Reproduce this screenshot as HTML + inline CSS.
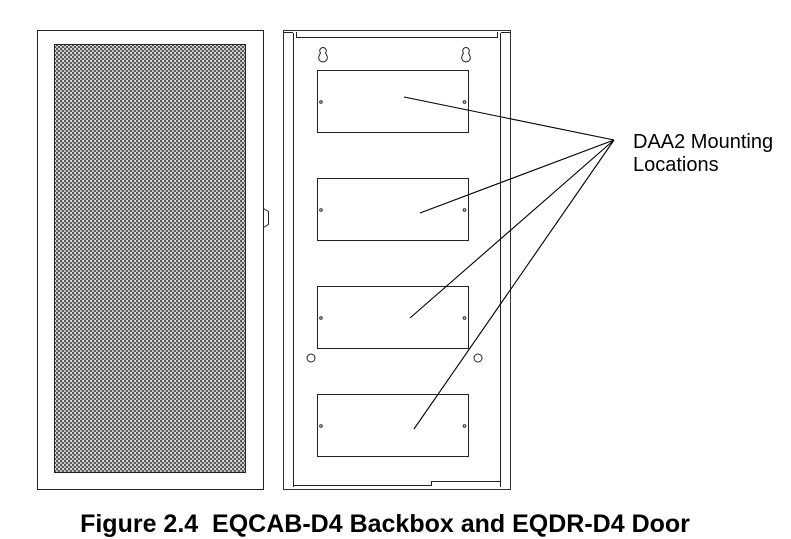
<!DOCTYPE html>
<html><head><style>
html,body{margin:0;padding:0;background:#fff;width:791px;height:539px;overflow:hidden}
</style></head><body>
<svg width="791" height="539" viewBox="0 0 791 539" xmlns="http://www.w3.org/2000/svg">
<defs>
<pattern id="p" x="55" y="45" width="4" height="4" patternUnits="userSpaceOnUse">
<circle cx="2" cy="2" r="1.4" fill="none" stroke="#222" stroke-width="0.9"/>
</pattern>
</defs>
<g fill="none" stroke="#222" stroke-width="1">
<!-- door -->
<rect x="37.5" y="30.5" width="226" height="459" stroke="#222"/>
<rect x="54.5" y="44.5" width="191" height="428" fill="url(#p)" stroke="#222"/>
<path d="M263.5 208.5 L268.5 211.5 L268.5 224.5 L263.5 227.5"/>
<!-- backbox -->
<rect x="283.5" y="30.5" width="227" height="459" stroke="#333"/>
<line x1="293.5" y1="33" x2="293.5" y2="487"/>
<line x1="500.5" y1="33" x2="500.5" y2="487"/>
<path d="M284 32.5 H293 M296.5 32 V37.5 H497.5 V32 M501 32.5 H510"/>
<path d="M294 485.5 H431.5 V481.5 H500"/>
<!-- keyholes -->
<path d="M320.5 53 A3.3 3.3 0 1 1 325.5 53 L327 56 A4.3 4.3 0 1 1 319 56 Z"/>
<path d="M463.5 53 A3.3 3.3 0 1 1 468.5 53 L470 56 A4.3 4.3 0 1 1 462 56 Z"/>
<rect x="317.5" y="70.5" width="151" height="62"/>
<rect x="317.5" y="178.5" width="151" height="62"/>
<rect x="317.5" y="286.5" width="151" height="62"/>
<rect x="317.5" y="394.5" width="151" height="62"/>
<circle cx="321" cy="102" r="1.3"/><circle cx="464.5" cy="102" r="1.3"/>
<circle cx="321" cy="210" r="1.3"/><circle cx="464.5" cy="210" r="1.3"/>
<circle cx="321" cy="318" r="1.3"/><circle cx="464.5" cy="318" r="1.3"/>
<circle cx="321" cy="426" r="1.3"/><circle cx="464.5" cy="426" r="1.3"/>
<circle cx="311" cy="358" r="4"/><circle cx="478" cy="358" r="4"/>
<g stroke="#000" stroke-width="1.1">
<line x1="614" y1="140" x2="404" y2="97"/>
<line x1="614" y1="140" x2="420" y2="213"/>
<line x1="614" y1="140" x2="410" y2="318"/>
<line x1="614" y1="140" x2="414" y2="429"/>
</g>
</g>
<g font-family="Liberation Sans, sans-serif" fill="#000">
<text x="633" y="148" font-size="20">DAA2 Mounting</text>
<text x="633" y="171" font-size="20">Locations</text>
<text x="385" y="532" font-size="25" font-weight="bold" text-anchor="middle" xml:space="preserve">Figure 2.4  EQCAB-D4 Backbox and EQDR-D4 Door</text>
</g>
</svg>
</body></html>
